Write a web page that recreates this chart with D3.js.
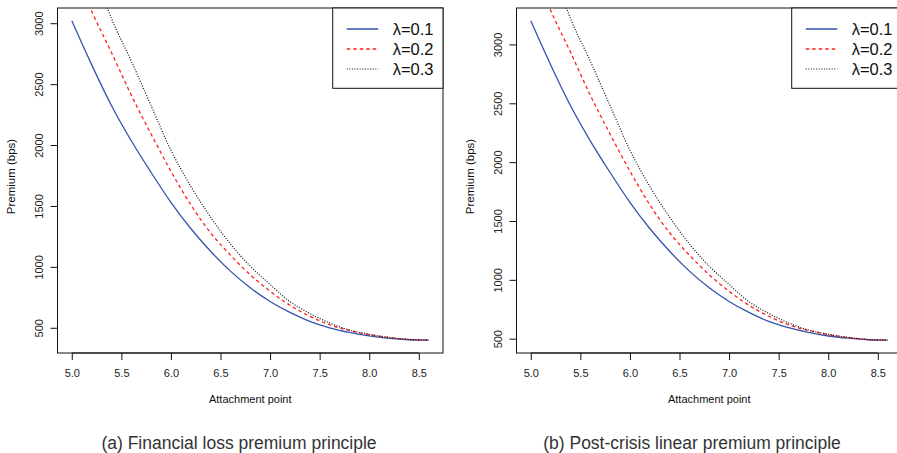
<!DOCTYPE html>
<html>
<head>
<meta charset="utf-8">
<script src="https://cdn.jsdelivr.net/npm/d3@7"></script>
<style>
  body { margin: 0; background: #fff; }
  svg { display: block; font-family: "Liberation Sans", Arial, sans-serif; }
</style>
</head>
<body>
<div id="vis"></div>
<script>
// attachment points (x) shared by every curve
const attachment = [5.0, 5.2, 5.4, 5.6, 5.8, 6.0, 6.2, 6.4, 6.6, 6.8, 7.0, 7.2, 7.4, 7.6, 7.8, 8.0, 8.2, 8.4, 8.6];
const lambdaLabels = ["λ=0.1", "λ=0.2", "λ=0.3"];

// (a) financial loss premium principle, premium in bps
const lossLambda1 = [3020, 2660, 2325, 2035, 1775, 1530, 1315, 1128, 965, 828, 716, 626, 553, 500, 462, 433, 414, 402, 398];
const lossLambda2 = [3500, 3100, 2760, 2410, 2090, 1785, 1510, 1280, 1097, 935, 800, 685, 595, 525, 478, 443, 420, 404, 399];
const lossLambda3 = [4000, 3495, 3040, 2690, 2323, 1957, 1661, 1409, 1188, 1006, 856, 715, 618, 540, 482, 447, 421, 405, 399];

// (b) post-crisis linear premium principle
const linearLambda1 = [3201, 2828, 2481, 2181, 1912, 1659, 1436, 1243, 1074, 932, 816, 723, 647, 593, 553, 523, 504, 491, 487];
const linearLambda2 = [3710, 3290, 2935, 2569, 2238, 1923, 1638, 1400, 1210, 1043, 903, 784, 691, 618, 570, 534, 510, 493, 488];
const linearLambda3 = [4215, 3692, 3221, 2859, 2479, 2101, 1794, 1533, 1305, 1116, 961, 815, 715, 634, 574, 538, 511, 494, 488];

const xTicks = [5.0, 5.5, 6.0, 6.5, 7.0, 7.5, 8.0, 8.5];
const yTicks = [500, 1000, 1500, 2000, 2500, 3000];

const W = 897, H = 453;
const styles = [
  { color: "#3553ad", dash: null, width: 1.3 },
  { color: "#ff2020", dash: "3.5,3", width: 1.3 },
  { color: "#111", dash: "1,1.6", width: 1.2 }
];

const svg = d3.select("#vis").append("svg")
  .attr("width", W).attr("height", H);

// R style 4% axis expansion
function rRange(ext) {
  const r = ext[1] - ext[0];
  return [ext[0] - 0.04 * r, ext[1] + 0.04 * r];
}

function panel(id, left, series, caption, captionX) {
  const top = 8, bottom = 353, width = 385.5;
  const x = d3.scaleLinear().domain(rRange(d3.extent(attachment))).range([left, left + width]);
  const y = d3.scaleLinear().domain(rRange(d3.extent(series[0]))).range([bottom, top]);

  const g = svg.append("g");

  g.append("clipPath").attr("id", "clip" + id)
    .append("rect").attr("x", left).attr("y", top)
    .attr("width", width).attr("height", bottom - top);

  const line = d3.line()
    .x((d, i) => x(attachment[i]))
    .y(d => y(d))
    .curve(d3.curveMonotoneX);

  g.append("g").attr("clip-path", `url(#clip${id})`)
    .selectAll("path")
    .data(series)
    .enter()
    .append("path")
    .attr("d", d => line(d))
    .attr("fill", "none")
    .attr("stroke", (d, i) => styles[i].color)
    .attr("stroke-width", (d, i) => styles[i].width)
    .attr("stroke-dasharray", (d, i) => styles[i].dash);

  // box
  g.append("rect")
    .attr("x", left).attr("y", top)
    .attr("width", width).attr("height", bottom - top)
    .attr("fill", "none").attr("stroke", "#111").attr("stroke-width", 1);

  // x axis
  const xa = g.append("g")
    .attr("transform", `translate(0,${bottom})`)
    .call(d3.axisBottom(x).tickValues(xTicks).tickFormat(d3.format(".1f")).tickSize(7).tickPadding(9));
  xa.select(".domain").attr("d", `M${x(xTicks[0])},0H${x(xTicks[xTicks.length - 1])}`).attr("stroke", "#111");
  xa.selectAll(".tick line").attr("stroke", "#111");
  xa.selectAll(".tick text").attr("font-size", 11).attr("fill", "#222").attr("font-family", null);

  // y axis
  const ya = g.append("g")
    .attr("transform", `translate(${left},0)`)
    .call(d3.axisLeft(y).tickValues(yTicks).tickSize(7).tickFormat(d3.format("d")));
  ya.select(".domain").attr("d", `M0,${y(yTicks[0])}V${y(yTicks[yTicks.length - 1])}`).attr("stroke", "#111");
  ya.selectAll(".tick line").attr("stroke", "#111");
  ya.selectAll(".tick text")
    .attr("x", null).attr("dy", null)
    .attr("transform", "translate(-14.5,0) rotate(-90)")
    .attr("text-anchor", "middle")
    .attr("font-size", 11).attr("fill", "#222").attr("font-family", null);

  // axis titles
  g.append("text")
    .attr("x", left + width / 2).attr("y", 403)
    .attr("text-anchor", "middle").attr("font-size", 11).attr("fill", "#111")
    .text("Attachment point");
  g.append("text")
    .attr("transform", `translate(${left - 42.5},${(top + bottom) / 2 - 4}) rotate(-90)`)
    .attr("text-anchor", "middle").attr("font-size", 11.5).attr("fill", "#111")
    .text("Premium (bps)");

  // legend, top right
  const lw = 110.3, lh = 80.3;
  const lx = left + width - lw;
  const leg = g.append("g");
  leg.append("rect")
    .attr("x", lx).attr("y", top).attr("width", lw).attr("height", lh)
    .attr("fill", "#fff").attr("stroke", "#111").attr("stroke-width", 1);
  lambdaLabels.forEach((lab, i) => {
    const by = 35 + i * 20;
    leg.append("line")
      .attr("x1", lx + 14).attr("x2", lx + 45.6)
      .attr("y1", by - 6).attr("y2", by - 6)
      .attr("stroke", styles[i].color)
      .attr("stroke-width", styles[i].width)
      .attr("stroke-dasharray", styles[i].dash);
    leg.append("text")
      .attr("x", lx + 60).attr("y", by)
      .attr("font-size", 16.5).attr("fill", "#111")
      .text(lab);
  });

  // caption
  g.append("text")
    .attr("x", captionX).attr("y", 449)
    .attr("text-anchor", "middle").attr("font-size", 17.5).attr("fill", "#333")
    .text(caption);
}

panel("a", 57.5, [lossLambda1, lossLambda2, lossLambda3], "(a) Financial loss premium principle", 239);
panel("b", 516.5, [linearLambda1, linearLambda2, linearLambda3], "(b) Post-crisis linear premium principle", 692);
</script>
</body>
</html>
